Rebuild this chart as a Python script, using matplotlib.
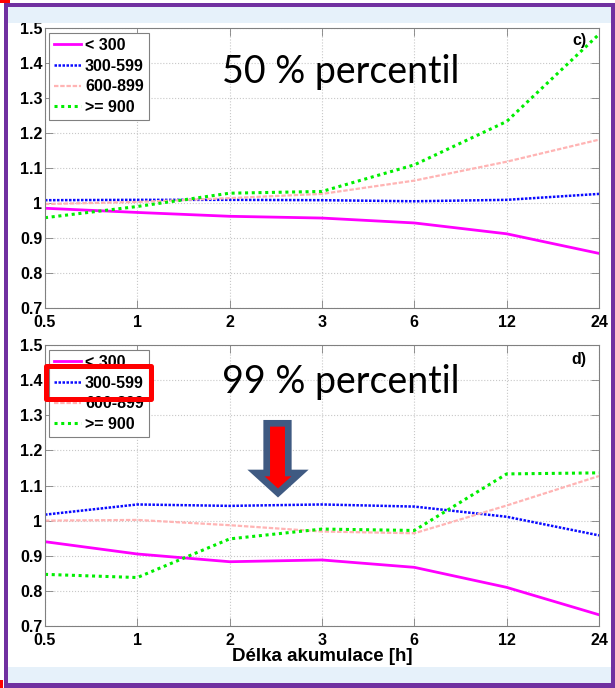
import numpy as np
import matplotlib
matplotlib.use('Agg')
import matplotlib.pyplot as plt
from matplotlib.patches import Rectangle, Polygon

# accumulation lengths (categorical axis)
durations = ['0.5', '1', '2', '3', '6', '12', '24']
labels = ['< 300', '300-599', '600-899', '>= 900']

# 50 % percentile
lt300_50 = [0.985, 0.973, 0.962, 0.957, 0.943, 0.912, 0.856]
r300_50 = [1.008, 1.009, 1.009, 1.008, 1.005, 1.009, 1.026]
r600_50 = [0.997, 1.003, 1.014, 1.026, 1.064, 1.118, 1.181]
ge900_50 = [0.958, 0.990, 1.028, 1.033, 1.109, 1.233, 1.482]

# 99 % percentile
lt300_99 = [0.940, 0.905, 0.883, 0.888, 0.867, 0.810, 0.732]
r300_99 = [1.017, 1.046, 1.042, 1.046, 1.040, 1.011, 0.958]
r600_99 = [1.000, 1.002, 0.987, 0.969, 0.964, 1.043, 1.127]
ge900_99 = [0.847, 0.838, 0.948, 0.976, 0.972, 1.133, 1.136]

plt.rcParams['font.family'] = 'Liberation Sans'
plt.rcParams['font.weight'] = 'bold'
plt.rcParams['axes.labelweight'] = 'bold'
plt.rcParams['font.size'] = 11.5

W, H = 615, 688
fig = plt.figure(figsize=(W / 100, H / 100), dpi=100)
fig.patch.set_facecolor('white')

def px(x0, y0, w, h):
    # pixel box (from top-left) -> figure fraction rect
    return (x0 / W, 1 - (y0 + h) / H, w / W, h / H)

# frame decoration
purple = '#7030A0'
lightblue = '#E6F1FA'
for r, c in [(px(8, 7, 604, 16), lightblue), (px(8, 667, 604, 16), lightblue),
             (px(4, 3, 611, 4), purple), (px(4, 683, 611, 5), purple),
             (px(4, 3, 4, 685), purple), (px(611, 3, 4, 685), purple),
             (px(0, 0, 10, 3), 'red'), (px(0, 680, 3, 8), 'red')]:
    fig.patches.append(Rectangle(r[:2], r[2], r[3], transform=fig.transFigure,
                                 facecolor=c, edgecolor='none', zorder=0))

ax1 = fig.add_axes(px(45, 28, 554, 280))
ax2 = fig.add_axes(px(45, 345, 554, 281))

x = np.arange(len(durations))
styles = [dict(color='#FF00FF', ls='-', lw=2.0),
          dict(color='#0A0AFF', ls=(0, (1, 0.6)), lw=1.8),
          dict(color='#FFB4B4', ls=(0, (2, 0.8)), lw=1.6),
          dict(color='#00EE00', ls=(0, (1, 1.2)), lw=2.2)]

panels = [(ax1, [lt300_50, r300_50, r600_50, ge900_50], '50 % percentil', 'c)', 0.804, 0.982),
          (ax2, [lt300_99, r300_99, r600_99, ge900_99], '99 % percentil', 'd)', 0.829, 0.975)]

for ax, series, title, tag, ty, tagy in panels:
    for vals, lab, st in zip(series, labels, styles):
        ax.plot(x, vals, label=lab, **st)
    ax.set_xlim(0, len(durations) - 1)
    ax.set_ylim(0.7, 1.5)
    ax.set_xticks(x)
    ax.set_xticklabels(durations)
    ax.set_yticks(np.arange(0.7, 1.51, 0.1))
    ax.set_yticklabels(['0.7', '0.8', '0.9', '1', '1.1', '1.2', '1.3', '1.4', '1.5'])
    ax.tick_params(direction='in', top=True, right=True, length=6, width=0.6,
                   color='#808080', labelsize=11.5)
    ax.tick_params(axis='x', pad=5)
    ax.tick_params(axis='y', pad=2)
    for s in ax.spines.values():
        s.set_color('#808080')
        s.set_linewidth(0.8)
    ax.grid(True, ls=':', color='#C8C8C8', lw=0.8)
    leg = ax.legend(loc='upper left', bbox_to_anchor=(4 / 554, 1 - 5 / 280),
                    borderaxespad=0, fancybox=False, edgecolor='#808080',
                    framealpha=1, handlelength=1.7, handletextpad=0.25,
                    labelspacing=0.36, borderpad=0.3, fontsize=11.5)
    leg.get_frame().set_linewidth(0.8)
    ax.text(0.533, ty, title, transform=ax.transAxes, ha='center', va='baseline',
            fontsize=27, family='Lato', fontweight='normal')
    ax.text(0.978, tagy, tag, transform=ax.transAxes, ha='right', va='top',
            fontsize=11.5)

ax2.set_xlabel('Délka akumulace [h]', fontsize=13.5, fontweight='bold', labelpad=0)

# highlight box around 300-599 in lower legend
rx0, ry0, rw, rh = px(45.5, 365.5, 105, 33)
fig.patches.append(Rectangle((rx0, ry0), rw, rh, transform=fig.transFigure,
                             facecolor='none', edgecolor='#FF0000', lw=3.6,
                             joinstyle='round', zorder=5))

# arrow
arrow_px = [(266.7, 423.3), (288.3, 423.3), (288.3, 473), (300, 473),
            (278, 493), (256, 473), (266.7, 473)]
fig.patches.append(Polygon([(a / W, 1 - b / H) for a, b in arrow_px], closed=True,
                           transform=fig.transFigure, facecolor='#FF0000',
                           edgecolor='#3F5A82', lw=4.8, joinstyle='miter', zorder=5))

fig.savefig('out.png', dpi=100)
